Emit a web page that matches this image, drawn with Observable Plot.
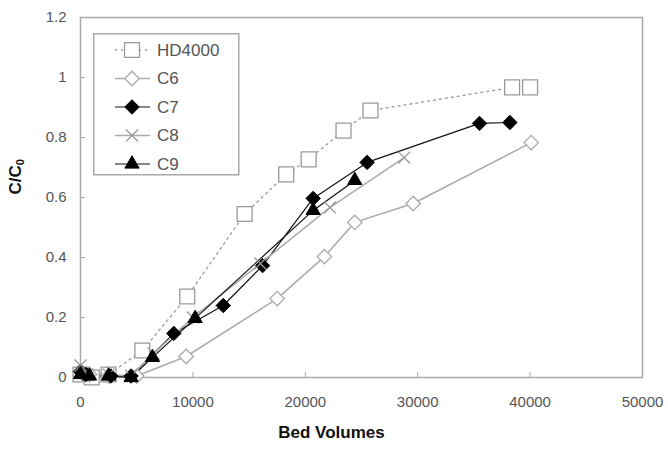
<!DOCTYPE html>
<html>
<head>
<meta charset="utf-8">
<script src="https://cdn.jsdelivr.net/npm/d3@7"></script>
<script src="https://cdn.jsdelivr.net/npm/@observablehq/plot@0.6"></script>
<style>
  html, body { margin: 0; padding: 0; background: #fff; }
  #wrap { position: relative; width: 668px; height: 449px; font-family: "Liberation Sans", Arial, sans-serif; }
  #legend { position: absolute; left: 93px; top: 33px; }
</style>
</head>
<body>
<div id="wrap"></div>
<script>
// ---- data ----
const seriesNames = ["HD4000", "C6", "C7", "C8", "C9"];

const hdX = [0, 1000, 2500, 5500, 9500, 14600, 18300, 20300, 23400, 25800, 38400, 40000];
const hdY = [0.01, 0.0, 0.01, 0.09, 0.27, 0.545, 0.677, 0.727, 0.823, 0.89, 0.967, 0.967];

const c6X = [0, 800, 2500, 5000, 9400, 17500, 21700, 24400, 29600, 40100];
const c6Y = [0.02, 0.01, 0.005, 0.005, 0.07, 0.263, 0.403, 0.517, 0.58, 0.783];

const c7X = [0, 500, 2700, 4500, 8300, 12700, 16200, 20700, 25500, 35500, 38200];
const c7Y = [0.02, 0.01, 0.005, 0.005, 0.147, 0.24, 0.373, 0.597, 0.717, 0.847, 0.85];

const c8X = [0, 600, 2500, 4500, 6500, 10000, 16000, 22200, 28800];
const c8Y = [0.04, 0.01, 0.01, 0.005, 0.08, 0.2, 0.38, 0.567, 0.733];

const c9X = [0, 800, 2500, 4500, 6400, 10200, 20700, 24400];
const c9Y = [0.01, 0.005, 0.005, 0.0, 0.067, 0.197, 0.557, 0.657];

const xTicks = [0, 10000, 20000, 30000, 40000, 50000];
const yTicks = [0, 0.2, 0.4, 0.6, 0.8, 1.0, 1.2];

// ---- styles ----
const styles = {
  HD4000: {stroke: "#999", dash: "2,4", lw: 1.3, symbol: "square2", r: 9.5, fill: "white", mstroke: "#999", msw: 1.3},
  C6:     {stroke: "#aaa", dash: null,  lw: 1.5, symbol: "diamond2", r: 6.5, fill: "white", mstroke: "#aaa", msw: 1.3},
  C7:     {stroke: "#111", dash: null,  lw: 1.2, symbol: "diamond2", r: 6.5, fill: "#000", mstroke: "#000", msw: 1},
  C8:     {stroke: "#aaa", dash: null,  lw: 1.5, symbol: "times",    r: 5.5, fill: "none", mstroke: "#999", msw: 1.3},
  C9:     {stroke: "#111", dash: null,  lw: 1.2, symbol: "triangle2", r: 6.8, fill: "#000", mstroke: "#000", msw: 1}
};

const raw = {HD4000: [hdX, hdY], C6: [c6X, c6Y], C7: [c7X, c7Y], C8: [c8X, c8Y], C9: [c9X, c9Y]};
const data = seriesNames.flatMap(s => raw[s][0].map((x, i) => ({series: s, x, y: raw[s][1][i]})));

const marks = [];
for (const s of seriesNames) {
  const st = styles[s];
  const d = data.filter(r => r.series === s);
  marks.push(Plot.line(d, {x: "x", y: "y", stroke: st.stroke, strokeWidth: st.lw, strokeDasharray: st.dash}));
}
for (const s of seriesNames) {
  const st = styles[s];
  const d = data.filter(r => r.series === s);
  marks.push(Plot.dot(d, {x: "x", y: "y", symbol: () => st.symbol, r: st.r, fill: st.fill, stroke: st.mstroke, strokeWidth: st.msw}));
}

const chart = Plot.plot({
  width: 668,
  height: 449,
  marginLeft: 80,
  marginRight: 26,
  marginTop: 17,
  marginBottom: 72,
  style: {fontFamily: "'Liberation Sans', Arial, sans-serif", background: "white", overflow: "visible"},
  x: {domain: [0, 50000]},
  y: {domain: [0, 1.2]},
  symbol: {type: "identity"},
  marks: [
    Plot.frame({stroke: "#aaa", strokeWidth: 1.5}),
    Plot.axisY({ticks: yTicks, tickSize: -5, tickPadding: 19, stroke: "#aaa", fill: "#555", fontSize: 15, label: null,
                tickFormat: d => String(+d.toFixed(1))}),
    Plot.axisX({ticks: xTicks, tickSize: -5, tickPadding: 24, stroke: "#aaa", fill: "#555", fontSize: 15, label: null,
                tickFormat: d => String(d)}),
    Plot.text(["Bed Volumes"], {frameAnchor: "bottom", dy: 60, dx: -30, fontSize: 17, fontWeight: "bold", fill: "#111"}),
    Plot.text(["C/C0"], {frameAnchor: "left", dx: -65, dy: -3, rotate: -90, fontSize: 17, fontWeight: "bold", fill: "#111", className: "ylab"}),
    ...marks
  ]
});

document.getElementById("wrap").appendChild(chart);

// subscript the 0 in C/C0
d3.select(chart).selectAll("text").filter(function() { return this.textContent === "C/C0"; })
  .each(function() {
    const t = d3.select(this);
    t.text(null);
    t.append("tspan").text("C/C");
    t.append("tspan").attr("font-size", 11).attr("dy", "0.3em").text("0");
  });

// ---- legend (HTML overlay) ----
const lg = d3.select("#wrap").append("svg").attr("id", "legend")
  .attr("width", 148).attr("height", 144);
lg.append("rect").attr("x", 0.75).attr("y", 0.75).attr("width", 145).attr("height", 141)
  .attr("fill", "white").attr("stroke", "#aaa").attr("stroke-width", 1.5);
const symMap = {square2: d3.symbolSquare2, diamond2: d3.symbolDiamond2, times: d3.symbolTimes, triangle2: d3.symbolTriangle2};
seriesNames.forEach((s, i) => {
  const st = styles[s];
  const yy = 17 + i * 28.5;
  const g = lg.append("g").attr("transform", `translate(0,${yy})`);
  g.append("line").attr("x1", 22).attr("x2", 57).attr("y1", 0).attr("y2", 0)
    .attr("stroke", st.stroke).attr("stroke-width", st.lw).attr("stroke-dasharray", st.dash);
  g.append("path").attr("transform", "translate(39,0)")
    .attr("d", d3.symbol(symMap[st.symbol], st.r * st.r * Math.PI)())
    .attr("fill", st.fill).attr("stroke", st.mstroke).attr("stroke-width", st.msw);
  g.append("text").attr("x", 64).attr("y", 0).attr("dy", "0.35em")
    .attr("font-size", 17).attr("fill", "#555").text(s);
});
</script>
</body>
</html>
